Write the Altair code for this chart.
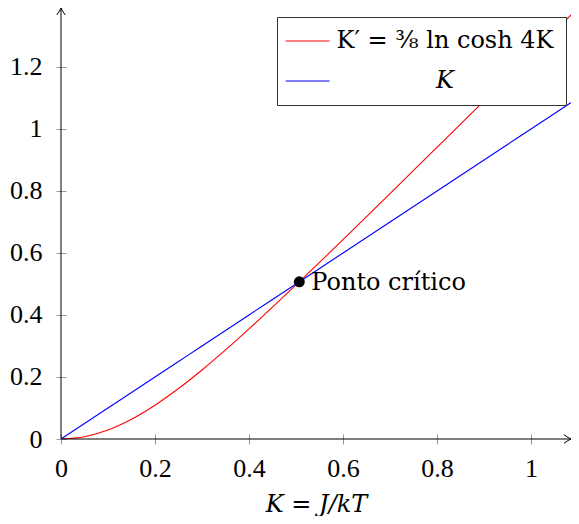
import altair as alt
import pandas as pd

# ---- data ----
K = [0.0, 0.05, 0.10, 0.15, 0.20, 0.25, 0.30, 0.35, 0.40, 0.45, 0.50, 0.55,
     0.60, 0.65, 0.70, 0.75, 0.80, 0.85, 0.90, 0.95, 1.00, 1.05, 1.10]
K_prime = [0.0, 0.0075, 0.0292, 0.0638, 0.1090, 0.1627, 0.2226, 0.2872, 0.3551,
           0.4252, 0.4969, 0.5696, 0.6431, 0.7171, 0.7915, 0.8660, 0.9407, 1.0155,
           1.0904, 1.1653, 1.2403, 1.3152, 1.3901]
series_labels = ["K′ = ⅜ ln cosh 4K", "K"]
series_colors = ["#ff0000", "#0000ff"]
crit_K = [0.507]
crit_label = ["Ponto crítico"]
x_ticks = [0, 0.2, 0.4, 0.6, 0.8, 1.0]
y_ticks = [0, 0.2, 0.4, 0.6, 0.8, 1.0, 1.2]
X_MAX = 1.085
Y_MAX = 1.39

rows = []
for k, kp in zip(K, K_prime):
    rows.append({"K": k, "y": kp, "s": series_labels[0]})
    rows.append({"K": k, "y": k, "s": series_labels[1]})
df = pd.DataFrame(rows)
df_pt = pd.DataFrame({"K": crit_K, "y": crit_K, "label": crit_label})

NUM_FONT = "Liberation Serif"
TXT_FONT = "DejaVu Serif"
FS = 26
TFS = 24
ARROW = "M-1.4,-0.85 Q-0.5,-0.2 0,0 Q-0.5,0.2 -1.4,0.85"
LEG_LINE = "M-2.8,0 L5.2,0"

xs = alt.Scale(domain=[0, X_MAX], nice=False, zero=False)
ys = alt.Scale(domain=[0, Y_MAX], nice=False, zero=False)

x_enc = alt.X("K:Q", scale=xs, axis=alt.Axis(
    values=x_ticks, format="~g", title="K = J/kT", offset=-5, tickSize=10,
    labelPadding=11, labelFlush=False, domain=False, grid=False, tickColor="#999999",
    labelFont=NUM_FONT, labelFontSize=FS, labelColor="black",
    titleFont=TXT_FONT, titleFontSize=TFS, titleFontStyle="italic",
    titleFontWeight="normal", titleColor="black", titlePadding=11))
y_enc = alt.Y("y:Q", scale=ys, axis=alt.Axis(
    values=y_ticks, format="~g", title=None, offset=-5, tickSize=10,
    labelPadding=14, labelFlush=False, domain=False, grid=False, tickColor="#999999",
    labelFont=NUM_FONT, labelFontSize=FS, labelColor="black"))

lines = alt.Chart(df).mark_line(strokeWidth=1.1, clip=True, interpolate="monotone").encode(
    x=x_enc,
    y=y_enc,
    color=alt.Color("s:N", sort=series_labels,
                    scale=alt.Scale(domain=series_labels, range=series_colors),
                    legend=alt.Legend(
                        title=None, orient="none", legendX=216, legendY=9,
                        strokeColor="#333333", fillColor="white", padding=12,
                        rowPadding=16, symbolType=LEG_LINE, symbolSize=121,
                        symbolStrokeWidth=1, labelFont=TXT_FONT, labelFontSize=TFS,
                        labelFontStyle=alt.ExprRef("datum.label == 'K' ? 'italic' : 'normal'"),
                        labelAlign="center", labelOffset=132, labelLimit=0,
                        labelColor="black", cornerRadius=0)),
)

axis_x = alt.Chart(df_pt).mark_rule(color="black", strokeWidth=1).encode(
    x=alt.datum(0), x2=alt.datum(X_MAX), y=alt.datum(0))
axis_y = alt.Chart(df_pt).mark_rule(color="black", strokeWidth=1).encode(
    x=alt.datum(0), y=alt.datum(0), y2=alt.datum(Y_MAX))
arrow_x = alt.Chart(df_pt).mark_point(shape=ARROW, size=100, filled=False,
                                      color="black", strokeWidth=1, opacity=1).encode(
    x=alt.datum(X_MAX), y=alt.datum(0))
arrow_y = alt.Chart(df_pt).mark_point(shape=ARROW, size=100, filled=False, angle=270,
                                      color="black", strokeWidth=1, opacity=1).encode(
    x=alt.datum(0), y=alt.datum(Y_MAX))

dot = alt.Chart(df_pt).mark_circle(size=120, color="black", opacity=1).encode(
    x="K:Q", y="y:Q")
label = alt.Chart(df_pt).mark_text(align="left", baseline="middle", dx=12, dy=1,
                                   font=TXT_FONT, fontSize=TFS, color="black").encode(
    x="K:Q", y="y:Q", text="label:N")

chart = alt.layer(lines, axis_x, axis_y, arrow_x, arrow_y, dot, label).properties(
    width=510, height=431,
    padding={"left": 53, "top": 0, "right": 0, "bottom": 77},
    autosize="none",
    background="white",
).configure_view(stroke=None)

chart.save("out.html", embed_options={"renderer": "svg", "actions": False})
